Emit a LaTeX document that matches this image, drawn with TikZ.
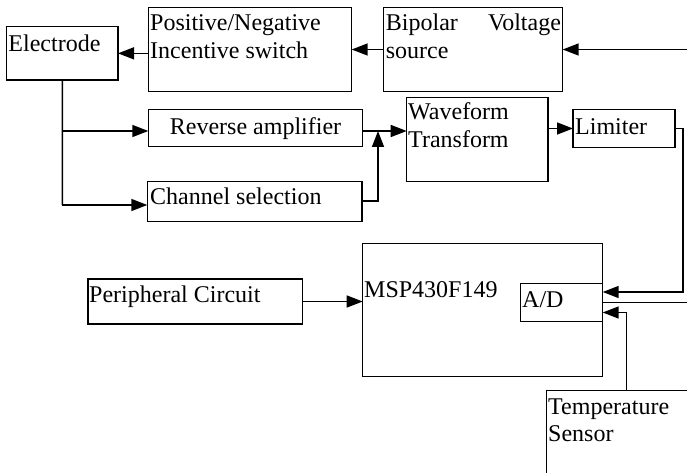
\documentclass[tikz,border=0pt]{standalone}
\usepackage{fontspec}
\setmainfont{Liberation Serif}
\usetikzlibrary{arrows.meta}
\begin{document}
\begin{tikzpicture}[x=1pt,y=-1pt,
  box/.style={draw, rectangle, line width=1.5pt, inner sep=0pt, outer sep=0pt, anchor=north west},
  txt/.style={font=\fontsize{24}{27.7}\selectfont, inner sep=0pt, anchor=base west},
  conn/.style={line width=1.5pt},
  arr/.style={conn, -{Triangle[length=16pt,width=12pt]}}]
\useasboundingbox (0,0) rectangle (687,473);
\clip (0,0) rectangle (687,473);

\node[box, minimum width=111.3pt, minimum height=53.3pt,
  label={[txt, xshift=1.6pt, yshift=-25pt]north west:Electrode}] (el) at (6.7,26.7) {};
\node[box, minimum width=203.4pt, minimum height=84.4pt,
  label={[txt, xshift=1.7pt, yshift=-23.4pt]north west:\parbox[t]{200pt}{Positive/Negative\\Incentive switch}}] (pn) at (148.3,7.3) {};
\node[box, minimum width=179.4pt, minimum height=84.4pt,
  label={[txt, xshift=2.4pt, yshift=-23.4pt]north west:\parbox[t]{175pt}{Bipolar\hfill Voltage\\source}}] (bp) at (383.3,7.3) {};
\node[box, minimum width=214.4pt, minimum height=37.4pt,
  label={[txt, anchor=base, yshift=-25.7pt]north:Reverse amplifier}] (ra) at (148.3,109.3) {};
\node[box, minimum width=214.7pt, minimum height=40pt,
  label={[txt, xshift=2.7pt, yshift=-22.8pt]north west:Channel selection}] (cs) at (147.3,181.7) {};
\node[box, minimum width=141.3pt, minimum height=84.4pt,
  label={[txt, xshift=1.3pt, yshift=-22.7pt]north west:\parbox[t]{138pt}{Waveform\\Transform}}] (wf) at (406.7,97.3) {};
\node[box, minimum width=102pt, minimum height=38.4pt,
  label={[txt, xshift=2pt, yshift=-25.7pt]north west:Limiter}] (lim) at (573,109.3) {};
\node[box, minimum width=214.7pt, minimum height=45pt,
  label={[txt, xshift=1pt, yshift=-23pt]north west:Peripheral Circuit}] (per) at (88,279) {};
\node[box, minimum width=240pt, minimum height=133.4pt,
  label={[txt, xshift=1.3pt, yshift=-53.7pt]north west:MSP430F149}] (msp) at (362.7,243.3) {};
\node[box, minimum width=82pt, minimum height=38.4pt,
  label={[txt, xshift=1.3pt, yshift=-23.7pt]north west:A/D}] (ad) at (520.7,283.3) {};
\node[box, minimum width=160pt, minimum height=100pt,
  label={[txt, xshift=1.3pt, yshift=-23.3pt]north west:\parbox[t]{138pt}{Temperature\\Sensor}}] (ts) at (546.7,390.7) {};

\coordinate (in1) at (687,49.5);
\coordinate (out1) at (687,302.5);
\coordinate (j1) at (62.3,131);
\coordinate (j2) at (62.3,205);
\coordinate (m) at (378,131);
\coordinate (rt) at (683,292);

% top row
\draw[arr] (in1) -- (bp.east |- in1);
\draw[arr] (bp.west |- in1) -- (pn.east |- in1);
\draw[arr] (pn.west |- el.east) -- (el.east);

% electrode branches
\draw[conn] (el.south) -- (j2);
\draw[arr] (j1) -- (ra.west |- j1);
\draw[arr] (j2) -- (cs.west |- j2);

% into waveform transform
\draw[arr] (ra.east |- j1) -- (wf.west |- j1);
\draw[arr] (cs.east |- 0,201) -- (m |- 0,201) -- (m);

% waveform -> limiter -> A/D
\draw[arr] (wf.east |- lim.west) -- (lim.west);
\draw[arr] (lim.east) -| (rt) -- (ad.east |- rt);

% A/D output
\draw[conn] (ad.east) -- (out1);

% temperature sensor -> A/D
\draw[arr] (ts.north west -| 626.7,0) -- (626.7,312.5) -- (ad.east |- 0,312.5);

% peripheral -> MSP
\draw[arr] (per.east) -- (msp.west |- per.east);
\end{tikzpicture}
\end{document}
